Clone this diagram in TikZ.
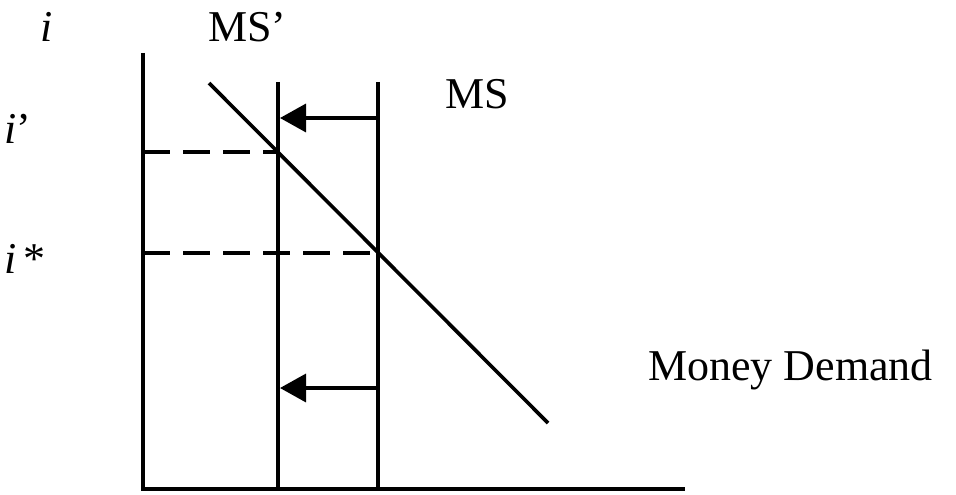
\documentclass[tikz,border=0pt]{standalone}
\usepackage{fontspec}
\setmainfont{Liberation Serif}
\usetikzlibrary{arrows.meta}
\begin{document}
\begin{tikzpicture}[x=1pt,y=-1pt,
  ln/.style={line width=3.6pt},
  dsh/.style={line width=3.4pt, dash pattern=on 27pt off 13pt},
  shift arrow/.style={line width=3.4pt, -{Triangle[length=26pt,width=28pt]}},
  lbl/.style={inner sep=0pt, anchor=base west, font=\fontsize{44}{52}\selectfont}]
\useasboundingbox (0,0) rectangle (956,495);
% axes
\coordinate (ytop) at (143,53);
\coordinate (origin) at (143,489);
\coordinate (xend) at (685,489);
\draw[ln] (ytop) -- (origin) -- (xend);
% supply lines
\coordinate (msptop) at (278,82);
\coordinate (mspbot) at (278,489);
\coordinate (mstop) at (378,82);
\coordinate (msbot) at (378,489);
\draw[ln] (msptop) -- (mspbot);
\draw[ln] (mstop) -- (msbot);
% demand
\coordinate (dtop) at (209,83);
\coordinate (dbot) at (548,423);
\draw[ln] (dtop) -- (dbot);
% dashed levels
\coordinate (ip) at (143,152);
\coordinate (ipx) at (278,152);
\coordinate (is) at (143,253);
\coordinate (isx) at (378,253);
\draw[dsh] (ip) -- (ipx);
\draw[dsh] (is) -- (isx);
% shift arrows
\coordinate (a1s) at (378,118);
\coordinate (a1e) at (280,118);
\coordinate (a2s) at (378,388);
\coordinate (a2e) at (280,388);
\draw[shift arrow] (a1s) -- (a1e);
\draw[shift arrow] (a2s) -- (a2e);
% labels
\node[lbl] (li) at (40,42) {\textit{i}};
\node[lbl] (lmsp) at (208,42) {MS’};
\node[lbl] (lms) at (445,108) {MS};
\node[lbl] (lip) at (4,143) {\textit{i}’};
\node[lbl] (lis) at (4,273) {\textit{i}\,*};
\node[lbl] (lmd) at (648,380) {Money Demand};
\end{tikzpicture}
\end{document}
